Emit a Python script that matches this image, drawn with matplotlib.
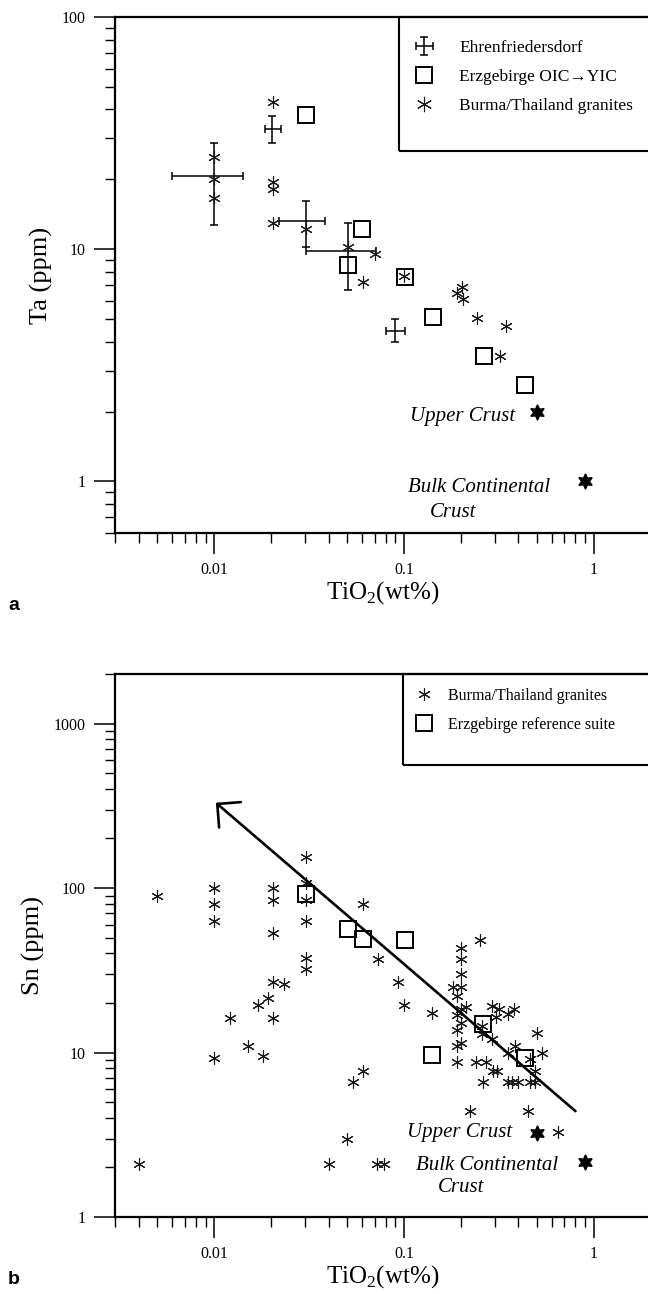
import matplotlib
matplotlib.use("Agg")
import matplotlib.pyplot as plt
from matplotlib.lines import Line2D
from matplotlib.patches import Rectangle
from matplotlib.ticker import LogLocator, NullFormatter, FixedLocator, FixedFormatter

plt.rcParams['font.family'] = 'Liberation Serif'
plt.rcParams['mathtext.fontset'] = 'custom'
plt.rcParams['mathtext.rm'] = 'Liberation Serif'

# ---------------- panel a : Ta vs TiO2 ----------------
# Ehrenfriedersdorf (with error bars)
ehr_x = [0.0202, 0.010, 0.0305, 0.0505, 0.090]
ehr_y = [32.8, 20.6, 13.2, 9.8, 4.46]
ehr_xlo = [0.0184, 0.0060, 0.0220, 0.0305, 0.0805]
ehr_xhi = [0.0225, 0.0141, 0.0385, 0.0714, 0.101]
ehr_ylo = [28.7, 12.7, 10.2, 6.7, 3.98]
ehr_yhi = [37.3, 28.7, 16.1, 13.0, 5.0]

# Erzgebirge OIC -> YIC
erz_a_x = [0.0306, 0.060, 0.0505, 0.1007, 0.142, 0.263, 0.433]
erz_a_y = [38.0, 12.2, 8.57, 7.56, 5.09, 3.48, 2.59]

# Burma/Thailand granites
bt_a_x = [0.0205, 0.010, 0.010, 0.010, 0.0203, 0.0203, 0.0203, 0.0305, 0.0505,
          0.0705, 0.0607, 0.100, 0.202, 0.190, 0.204, 0.242, 0.343, 0.322]
bt_a_y = [43.0, 24.9, 20.0, 16.6, 19.5, 18.1, 13.0, 12.2, 10.2,
          9.5, 7.26, 7.67, 6.86, 6.47, 6.1, 5.06, 4.69, 3.48]

# reference crusts
crust_tio2 = [0.5, 0.9]
crust_ta = [2.0, 1.0]
crust_sn = [3.25, 2.15]

# ---------------- panel b : Sn vs TiO2 ----------------
bt_b_x = [0.005, 0.010, 0.010, 0.010, 0.0203, 0.0203, 0.0203,
          0.0305, 0.0305, 0.0305, 0.0305, 0.0305, 0.0305,
          0.0607, 0.0733, 0.093, 0.100,
          0.0203, 0.0234, 0.0193, 0.0171, 0.0203, 0.0121, 0.0151, 0.0181, 0.010,
          0.140, 0.250, 0.200, 0.200, 0.200, 0.181, 0.200, 0.190, 0.200, 0.190,
          0.200, 0.190, 0.200, 0.190, 0.190,
          0.213, 0.290, 0.315, 0.306, 0.353, 0.378,
          0.256, 0.256, 0.289, 0.500, 0.383, 0.353,
          0.460, 0.490, 0.533, 0.240, 0.270, 0.295, 0.310,
          0.259, 0.353, 0.372, 0.400, 0.460, 0.490,
          0.0607, 0.054, 0.223, 0.450, 0.650,
          0.004, 0.050, 0.040, 0.072, 0.078]
bt_b_y = [90, 100, 80, 63, 100, 85, 53,
          155, 108, 84, 63, 37.5, 32,
          80, 37, 27, 19.5,
          27, 26, 21.5, 19.5, 16.3, 16.3, 11, 9.5, 9.2,
          17.5, 48, 43, 37, 30, 25, 25, 22, 18.5, 17,
          15.2, 13.7, 11.5, 11, 8.7,
          19, 19.3, 18.4, 16.4, 17.1, 18.4,
          14.5, 13, 12.1, 13.2, 11, 10,
          9.1, 7.7, 9.9, 8.8, 8.8, 7.7, 7.7,
          6.6, 6.6, 6.6, 6.6, 6.6, 6.6,
          7.7, 6.6, 4.4, 4.4, 3.3,
          2.1, 3.0, 2.1, 2.1, 2.1]

erz_b_x = [0.0305, 0.0505, 0.0607, 0.1007, 0.140, 0.259, 0.433]
erz_b_y = [92, 56, 49, 48, 9.6, 15.0, 9.2]

# trend arrow (tail, head)
arrow_x = [0.80, 0.0102]
arrow_y = [4.4, 330]

ast = (6, 2, 0)
hexa = (6, 1, 0)
W, H = 648, 1294


def style_axes(ax, ylim, yticks):
    ax.set_xscale('log')
    ax.set_yscale('log')
    ax.set_xlim(0.003, 2)
    ax.set_ylim(*ylim)
    ax.xaxis.set_major_locator(FixedLocator([0.01, 0.1, 1]))
    ax.xaxis.set_major_formatter(FixedFormatter(['0.01', '0.1', '1']))
    ax.xaxis.set_minor_locator(LogLocator(base=10, subs=range(2, 10)))
    ax.xaxis.set_minor_formatter(NullFormatter())
    ax.yaxis.set_major_locator(FixedLocator(yticks))
    ax.yaxis.set_major_formatter(FixedFormatter([('%g' % t) for t in yticks]))
    ax.yaxis.set_minor_locator(LogLocator(base=10, subs=range(2, 10)))
    ax.yaxis.set_minor_formatter(NullFormatter())
    ax.tick_params(which='major', length=15, width=1.1, pad=6, labelsize=11.5,
                   direction='out')
    ax.tick_params(which='minor', length=7, width=1.0, direction='out')
    ax.spines['right'].set_visible(False)
    for s in ('left', 'bottom', 'top'):
        ax.spines[s].set_linewidth(1.6)
    ax.set_xlabel('TiO$_2$(wt%)', fontsize=18, labelpad=1)


def ax_rect(top_px, bottom_px, left_px=115, right_px=651):
    return [left_px / W, 1 - bottom_px / H, (right_px - left_px) / W,
            (bottom_px - top_px) / H]


def legend_frame(ax, left_px, bottom_px, top_px, ax_left=115, ax_w=536):
    # open box from (left, bottom) up to the top spine, running off the right edge
    x0 = (left_px - ax_left) / ax_w
    bbox = ax.get_position()
    h_px = bbox.height * H
    y0 = 1 - (bottom_px - top_px) / h_px
    ax.add_patch(Rectangle((x0, y0), 1.05 - x0, 1 - y0, transform=ax.transAxes,
                           fill=False, ec='black', lw=1.5, clip_on=False, zorder=6))


fig = plt.figure(figsize=(6.48, 12.94), dpi=100)

# ---------- panel a ----------
ax1 = fig.add_axes(ax_rect(17, 533))
style_axes(ax1, (0.6, 100), [1, 10, 100])
ax1.set_ylabel('Ta (ppm)', fontsize=19, labelpad=6)

ehr = ax1.errorbar(ehr_x, ehr_y,
                   xerr=[[x - lo for x, lo in zip(ehr_x, ehr_xlo)],
                         [hi - x for x, hi in zip(ehr_x, ehr_xhi)]],
                   yerr=[[y - lo for y, lo in zip(ehr_y, ehr_ylo)],
                         [hi - y for y, hi in zip(ehr_y, ehr_yhi)]],
                   fmt='none', ecolor='black', elinewidth=1.1, capsize=2.6,
                   capthick=1.1, zorder=3)
ax1.plot(erz_a_x, erz_a_y, ls='none', marker='s', ms=11.5, mfc='none',
         mec='black', mew=1.4, zorder=4)
ax1.plot(bt_a_x, bt_a_y, ls='none', marker=ast, ms=9, mec='#1a1a1a', mew=0.8,
         zorder=5)
ax1.plot(crust_tio2, crust_ta, ls='none', marker=hexa, ms=11, mfc='black',
         mec='black', zorder=5)

legend_frame(ax1, 399, 151, 17)
h_sq = Line2D([], [], ls='none', marker='s', ms=11.5, mfc='none', mec='black', mew=1.4)
h_as = Line2D([], [], ls='none', marker=ast, ms=11, mec='#1a1a1a', mew=0.8)
ax1.legend([ehr, h_sq, h_as],
           ['Ehrenfriedersdorf', 'Erzgebirge OIC\u2192YIC', 'Burma/Thailand granites'],
           loc='upper left', bbox_to_anchor=((414 - 115) / 536, (533 - 40) / 516),
           frameon=False, fontsize=12.5, handlelength=1.2, handletextpad=1.4,
           labelspacing=0.75, borderpad=0, borderaxespad=0)

# ---------- panel b ----------
ax2 = fig.add_axes(ax_rect(674, 1217))
style_axes(ax2, (1, 2000), [1, 10, 100, 1000])
ax2.set_ylabel('Sn (ppm)', fontsize=19, labelpad=6)

ax2.plot(bt_b_x, bt_b_y, ls='none', marker=ast, ms=9, mec='#1a1a1a', mew=0.8,
         zorder=4)
ax2.plot(erz_b_x, erz_b_y, ls='none', marker='s', ms=11.5, mfc='none',
         mec='black', mew=1.4, zorder=5)
ax2.plot(crust_tio2, crust_sn, ls='none', marker=hexa, ms=11, mfc='black',
         mec='black', zorder=5)
ax2.annotate('', xy=(arrow_x[1], arrow_y[1]), xytext=(arrow_x[0], arrow_y[0]),
             arrowprops=dict(arrowstyle='->,head_length=0.6,head_width=0.6',
                             mutation_scale=20, lw=1.9, color='black',
                             shrinkA=0, shrinkB=0), zorder=6)

legend_frame(ax2, 403, 765, 674)
h_as2 = Line2D([], [], ls='none', marker=ast, ms=9, mec='#1a1a1a', mew=0.8)
ax2.legend([h_as2, h_sq],
           ['Burma/Thailand granites', 'Erzgebirge reference suite'],
           loc='upper left', bbox_to_anchor=((416 - 115) / 536, (1217 - 688) / 543),
           frameon=False, fontsize=11.5, handlelength=1.0, handletextpad=1.0,
           labelspacing=0.8, borderpad=0, borderaxespad=0)

# crust labels (figure pixel positions)
crust_text = dict(fontsize=15, style='italic', va='center')
fig.text(515 / W, 1 - 416 / H, 'Upper Crust', ha='right', **crust_text)
fig.text(408 / W, 1 - 487 / H, 'Bulk Continental', ha='left', **crust_text)
fig.text(430 / W, 1 - 512 / H, 'Crust', ha='left', **crust_text)
fig.text(512 / W, 1 - 1132 / H, 'Upper Crust', ha='right', **crust_text)
fig.text(416 / W, 1 - 1165 / H, 'Bulk Continental', ha='left', **crust_text)
fig.text(438 / W, 1 - 1187 / H, 'Crust', ha='left', **crust_text)

fig.text(8 / W, 1 - 606 / H, 'a', family='Liberation Sans', weight='bold',
         fontsize=14, va='center')
fig.text(8 / W, 1 - 1280 / H, 'b', family='Liberation Sans', weight='bold',
         fontsize=14, va='center')

fig.savefig('out.png', dpi=100)
